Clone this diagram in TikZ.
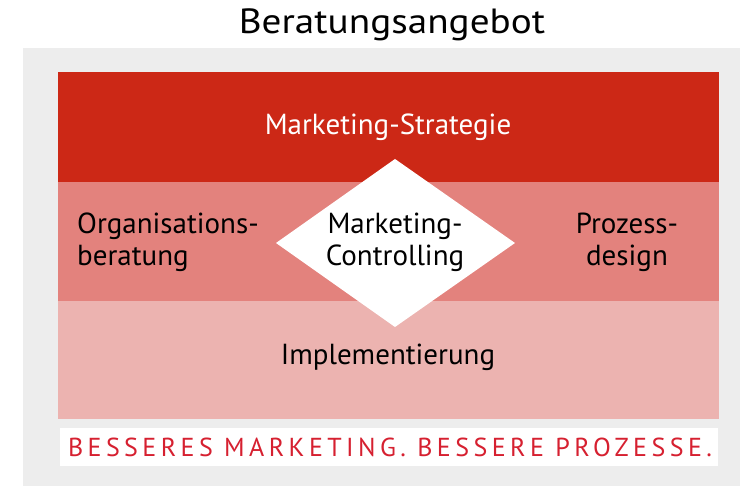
\documentclass[tikz,border=0pt]{standalone}
\usepackage{fontspec}
\setmainfont{PT Sans}
\usetikzlibrary{shapes.geometric}
\definecolor{bg}{RGB}{237,237,237}
\definecolor{dark}{RGB}{204,40,22}
\definecolor{mid}{RGB}{227,130,125}
\definecolor{light}{RGB}{236,179,176}
\definecolor{slog}{RGB}{214,32,48}
\tikzset{
  lbl/.style={font=\fontsize{29}{32}\selectfont, text=black, inner sep=0pt},
}
\begin{document}
\begin{tikzpicture}[x=1pt,y=-1pt]
\useasboundingbox (0,0) rectangle (740,486);
\fill[bg] (23,48) rectangle (740,486);
\fill[dark] (58,72) rectangle (719,182);
\fill[mid] (58,182) rectangle (719,301);
\fill[light] (58,301) rectangle (719,419);
\fill[white] (60,428) rectangle (718,466);
\fill[white] (395,159) coordinate (dt) -- (515,243) coordinate (dr) -- (395,327) coordinate (db) -- (276,243) coordinate (dl) -- cycle;
\node[font=\fontsize{35}{40}\selectfont, inner sep=0pt] (title) at (392,25) {\scalebox{1.12}[1]{Beratungsangebot}};
\node[lbl, text=white] (strat) at (388,127) {Marketing-Strategie};
\node[lbl, align=left, anchor=west] (org) at (77,242) {Organisations-\\beratung};
\node[lbl, align=center] (proz) at (627,242) {Prozess-\\design};
\node[lbl, align=center] (ctrl) at (395,242) {Marketing-\\Controlling};
\node[lbl] (impl) at (388,357) {Implementierung};
\node[font=\fontsize{26}{30}\selectfont\addfontfeature{LetterSpace=17}, text=slog, inner sep=0pt] (slogan) at (390,447) {BESSERES MARKETING. BESSERE PROZESSE.};
\end{tikzpicture}
\end{document}
